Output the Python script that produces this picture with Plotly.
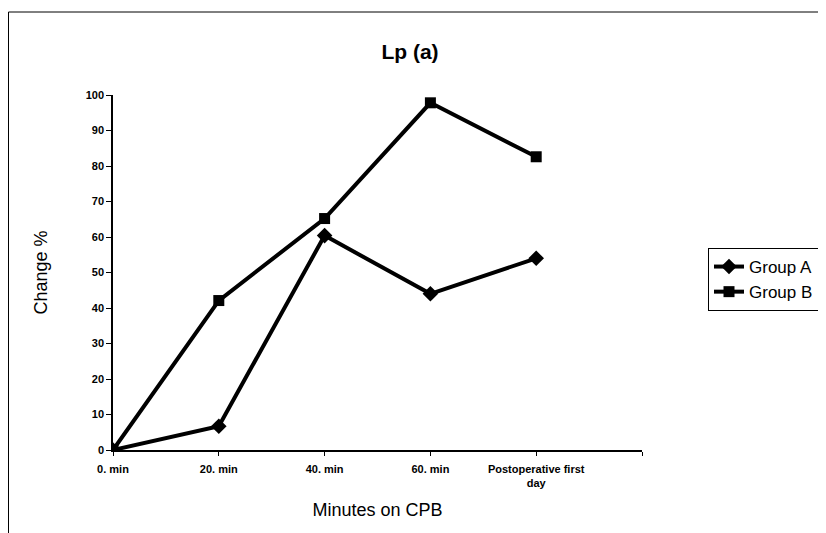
import plotly.graph_objects as go

categories = ["0. min", "20. min", "40. min", "60. min", "Postoperative first<br>day"]
group_a = [0, 6.7, 60.4, 44.0, 54.0]
group_b = [0, 42.1, 65.2, 97.8, 82.6]
y_ticks = [0, 10, 20, 30, 40, 50, 60, 70, 80, 90, 100]

axis_categories = categories + [" "]

OFF = 8  # default page body margin
W, H = 826 - OFF, 533 - OFF
L, R, T, B = 113, 642, 95, 450  # plot area in page pixels


def px_x(p):
    return (p - L) / (R - L)


def px_y(p):
    return (B - p) / (B - T)


fig = go.Figure()
fig.add_trace(go.Scatter(
    x=categories, y=group_a, name="Group A", mode="lines+markers",
    line=dict(color="black", width=4),
    marker=dict(symbol="diamond", size=12, color="black"),
))
fig.add_trace(go.Scatter(
    x=categories, y=group_b, name="Group B", mode="lines+markers",
    line=dict(color="black", width=4),
    marker=dict(symbol="square", size=11, color="black"),
))

# outer chart frame (top and left edges visible)
fig.add_shape(type="rect", xref="paper", yref="paper",
              x0=px_x(OFF + 0.5), x1=px_x(900), y0=px_y(600), y1=px_y(12),
              line=dict(color="black", width=1), layer="below")

fig.update_layout(
    width=W, height=H,
    margin=dict(l=L - OFF, r=W - (R - OFF), t=T - OFF, b=H - (B - OFF), pad=0),
    paper_bgcolor="white", plot_bgcolor="white",
    font=dict(family="Liberation Sans, Arial, sans-serif", color="black"),
    title=dict(text="<b>Lp (a)</b>", xref="container", x=(410 - OFF) / W,
               xanchor="center", yref="container", y=1 - (52 - OFF) / H,
               yanchor="middle", font=dict(size=21)),
    showlegend=True,
    legend=dict(xref="container", x=(708 - OFF) / W, xanchor="left",
                yref="container", y=1 - (248 - OFF) / H, yanchor="top",
                bordercolor="black", borderwidth=1, bgcolor="white",
                font=dict(size=17), tracegroupgap=0, itemwidth=30,
                entrywidth=130),
    xaxis=dict(
        type="category", categoryorder="array", categoryarray=axis_categories,
        range=[0, 5], showline=True, linecolor="black", linewidth=1.5,
        ticks="outside", ticklen=4, tickcolor="black", showgrid=False,
        zeroline=False, ticklabelstandoff=4,
        tickfont=dict(size=11, weight="bold"),
        title=dict(text="Minutes on CPB", font=dict(size=18), standoff=15),
    ),
    yaxis=dict(
        range=[0, 100], tickvals=y_ticks, showline=True, linecolor="black",
        linewidth=1.5, ticks="outside", ticklen=5, tickcolor="black",
        showgrid=False, zeroline=False,
        tickfont=dict(size=11, weight="bold"),
        title=dict(text="Change %", font=dict(size=18), standoff=33),
    ),
)

fig.write_html("out.html")
